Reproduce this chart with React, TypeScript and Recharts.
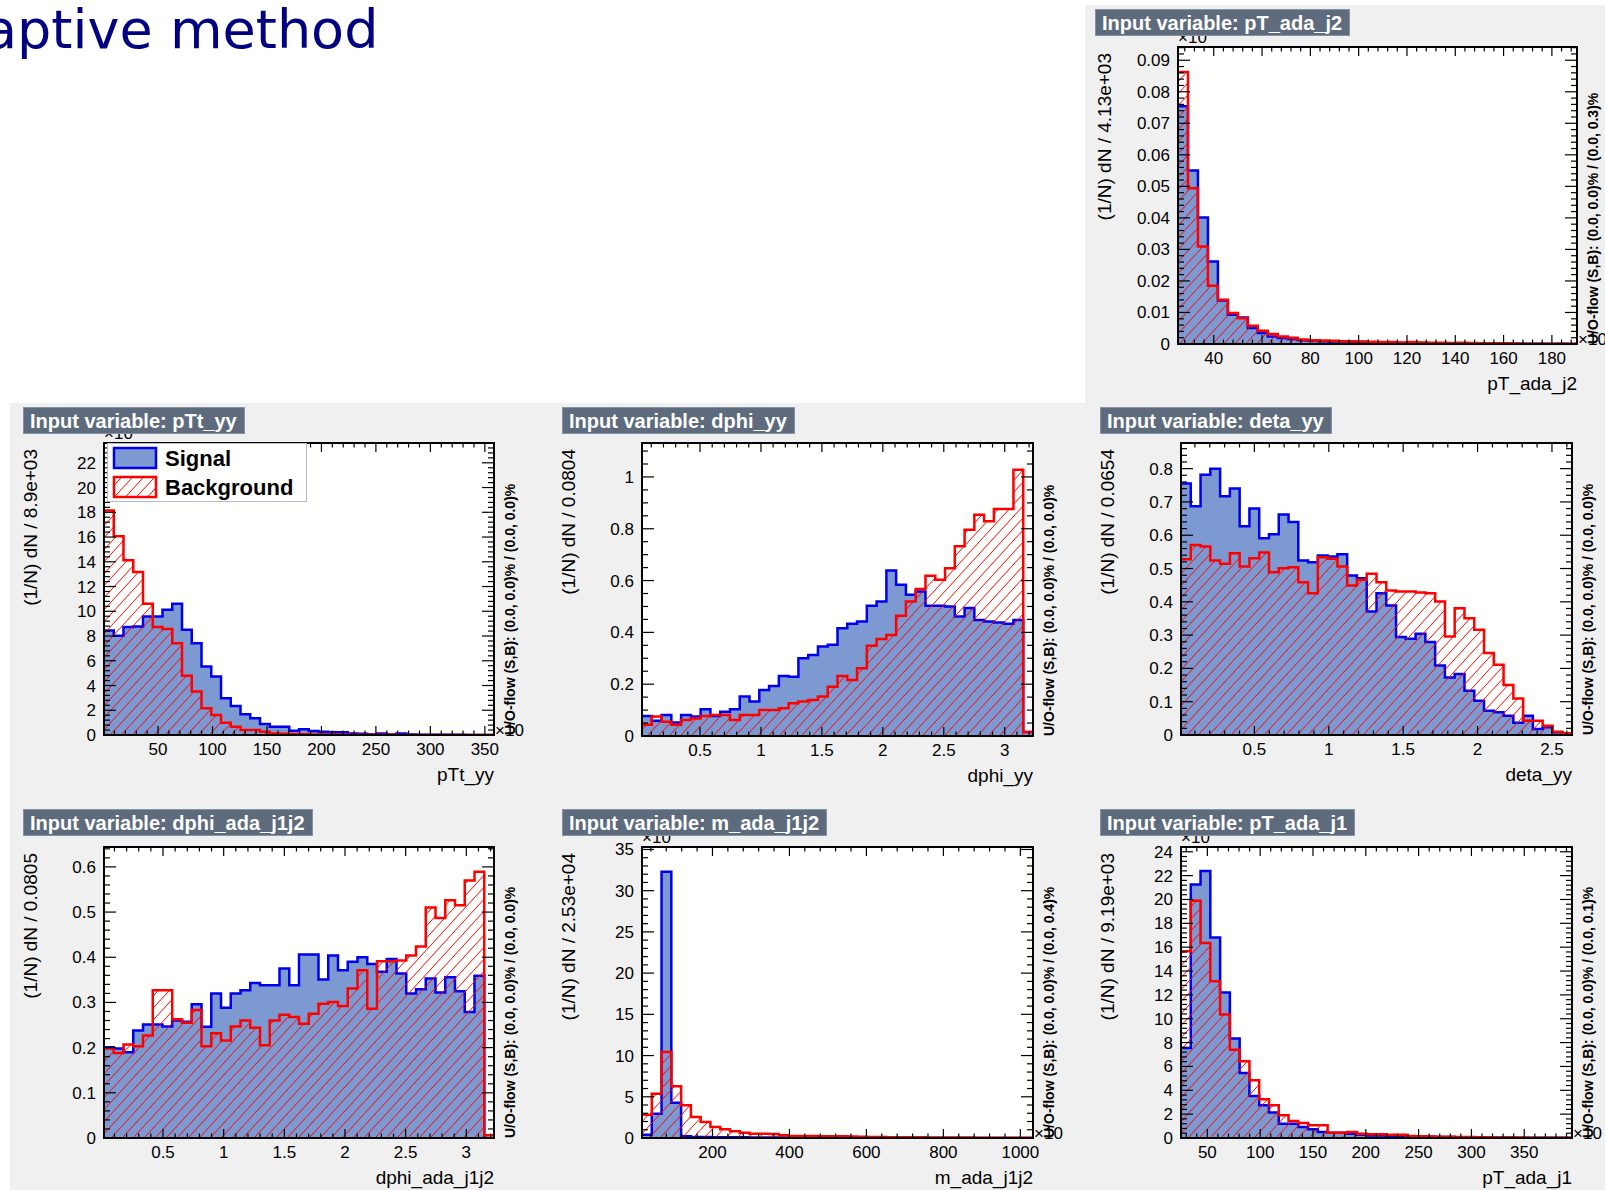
import React from 'react'
import { ComposedChart, Area, XAxis, YAxis } from 'recharts'

const FONT = '"Liberation Sans", Arial, Helvetica, sans-serif'
const SIG_LINE = '#0000ee'
const SIG_FILL = '#7d99d1'
const BKG_LINE = '#ff0000'
const TITLE_BOX = '#5d6b7d'
const CANVAS = '#f0f0f0'

// pT_ada_j2
const ptJ2Sig = [0.0754, 0.055, 0.0401, 0.0262, 0.0138, 0.0093, 0.0084, 0.0051, 0.0035, 0.0024, 0.0019, 0.0016, 0.0012, 0.001, 0.0009, 0.0008, 0.0008, 0.0007, 0.0006, 0.0005, 0.0004, 0.0004, 0.0003, 0.0003, 0.0003, 0.0002, 0.0002, 0.0002, 0.0002, 0.0001, 0.0001, 0.0001, 0.0001, 0.0001, 0.0001, 0.0001, 0.0001, 0.0, 0.0001, 0.0]
const ptJ2Bkg = [0.0863, 0.0494, 0.0309, 0.0185, 0.014, 0.0098, 0.0082, 0.0058, 0.0042, 0.0032, 0.0024, 0.002, 0.0014, 0.0012, 0.0011, 0.001, 0.0009, 0.0009, 0.0008, 0.0007, 0.0006, 0.0006, 0.0005, 0.0006, 0.0005, 0.0004, 0.0004, 0.0003, 0.0004, 0.0003, 0.0002, 0.0002, 0.0002, 0.0002, 0.0001, 0.0001, 0.0001, 0.0001, 0.0001, 0.0001]
const ptJ2XTicks = [40, 60, 80, 100, 120, 140, 160, 180]
const ptJ2YTicks = [0, 0.01, 0.02, 0.03, 0.04, 0.05, 0.06, 0.07, 0.08, 0.09]

// pTt_yy
const pttSig = [8.45, 8.02, 8.72, 8.77, 9.58, 9.58, 10.12, 10.61, 8.5, 7.42, 5.53, 4.72, 2.97, 2.35, 1.67, 1.35, 0.89, 0.67, 0.67, 0.35, 0.46, 0.32, 0.27, 0.22, 0.22, 0.13, 0.1, 0.05, 0.12, 0.05, 0.12, 0.04, 0.03, 0.03, 0.02, 0.02, 0.02, 0.01, 0.01, 0.01]
const pttBkg = [18.14, 16.06, 14.12, 13.17, 10.61, 8.72, 8.56, 7.42, 4.78, 3.51, 2.16, 1.62, 1.0, 0.67, 0.4, 0.4, 0.27, 0.13, 0.1, 0.08, 0.06, 0.05, 0.05, 0.04, 0.03, 0.03, 0.02, 0.02, 0.02, 0.02, 0.01, 0.01, 0.01, 0.01, 0.01, 0.01, 0.01, 0.01, 0.01, 0.01]
const pttXTicks = [50, 100, 150, 200, 250, 300, 350]
const pttYTicks = [0, 2, 4, 6, 8, 10, 12, 14, 16, 18, 20, 22]

// dphi_yy
const dphiYySig = [0.077, 0.059, 0.081, 0.052, 0.081, 0.075, 0.103, 0.077, 0.094, 0.103, 0.152, 0.133, 0.178, 0.193, 0.232, 0.229, 0.3, 0.313, 0.345, 0.352, 0.416, 0.433, 0.442, 0.503, 0.519, 0.639, 0.584, 0.545, 0.558, 0.503, 0.503, 0.5, 0.461, 0.494, 0.448, 0.442, 0.438, 0.433, 0.448, 0.015]
const dphiYyBkg = [0.043, 0.075, 0.055, 0.043, 0.062, 0.068, 0.077, 0.081, 0.081, 0.062, 0.081, 0.081, 0.1, 0.1, 0.107, 0.126, 0.133, 0.139, 0.152, 0.19, 0.232, 0.216, 0.262, 0.348, 0.374, 0.39, 0.464, 0.519, 0.567, 0.619, 0.603, 0.648, 0.732, 0.796, 0.854, 0.829, 0.876, 0.876, 1.028, 0.015]
const dphiYyXTicks = [0.5, 1, 1.5, 2, 2.5, 3]
const dphiYyYTicks = [0, 0.2, 0.4, 0.6, 0.8, 1]

// deta_yy
const detaYySig = [0.755, 0.687, 0.782, 0.8, 0.717, 0.74, 0.627, 0.68, 0.591, 0.603, 0.662, 0.64, 0.524, 0.519, 0.539, 0.536, 0.543, 0.479, 0.471, 0.371, 0.426, 0.389, 0.294, 0.289, 0.304, 0.279, 0.209, 0.173, 0.183, 0.133, 0.103, 0.073, 0.068, 0.058, 0.037, 0.058, 0.018, 0.023, 0.008, 0.005]
const detaYyBkg = [0.528, 0.571, 0.566, 0.524, 0.514, 0.546, 0.506, 0.531, 0.548, 0.489, 0.501, 0.504, 0.459, 0.426, 0.534, 0.529, 0.506, 0.449, 0.466, 0.484, 0.459, 0.434, 0.431, 0.431, 0.428, 0.426, 0.401, 0.296, 0.381, 0.351, 0.316, 0.246, 0.211, 0.15, 0.11, 0.043, 0.043, 0.028, 0.01, 0.005]
const detaYyXTicks = [0.5, 1, 1.5, 2, 2.5]
const detaYyYTicks = [0, 0.1, 0.2, 0.3, 0.4, 0.5, 0.6, 0.7, 0.8]

// dphi_ada_j1j2
const dphiJjSig = [0.201, 0.198, 0.19, 0.238, 0.251, 0.251, 0.247, 0.26, 0.257, 0.296, 0.246, 0.32, 0.288, 0.32, 0.327, 0.343, 0.338, 0.338, 0.375, 0.338, 0.406, 0.406, 0.351, 0.404, 0.371, 0.39, 0.4, 0.385, 0.368, 0.396, 0.364, 0.32, 0.329, 0.353, 0.322, 0.356, 0.325, 0.279, 0.359, 0.0]
const dphiJjBkg = [0.198, 0.188, 0.207, 0.203, 0.227, 0.327, 0.327, 0.263, 0.255, 0.283, 0.203, 0.232, 0.216, 0.247, 0.26, 0.244, 0.205, 0.26, 0.273, 0.268, 0.253, 0.275, 0.297, 0.301, 0.292, 0.331, 0.371, 0.286, 0.391, 0.391, 0.393, 0.404, 0.424, 0.51, 0.487, 0.526, 0.515, 0.57, 0.589, 0.006]
const dphiJjXTicks = [0.5, 1, 1.5, 2, 2.5, 3]
const dphiJjYTicks = [0, 0.1, 0.2, 0.3, 0.4, 0.5, 0.6]

// m_ada_j1j2
const mJjSig = [0.4, 2.95, 32.3, 4.29, 0.2, 0.12, 0.12, 0.1, 0.1, 0.08, 0.08, 0.07, 0.06, 0.06, 0.05, 0.05, 0.04, 0.04, 0.03, 0.03, 0.03, 0.02, 0.02, 0.02, 0.02, 0.01, 0.01, 0.01, 0.01, 0.01, 0.01, 0.01, 0.01, 0.01, 0.01, 0.01, 0.01, 0.01, 0.01, 0.01]
const mJjBkg = [2.83, 5.38, 10.44, 6.27, 3.96, 2.55, 1.94, 1.33, 1.05, 0.81, 0.65, 0.53, 0.53, 0.5, 0.32, 0.24, 0.24, 0.24, 0.22, 0.22, 0.2, 0.18, 0.16, 0.12, 0.12, 0.1, 0.1, 0.08, 0.08, 0.07, 0.06, 0.06, 0.05, 0.05, 0.04, 0.04, 0.04, 0.03, 0.03, 0.03]
const mJjXTicks = [200, 400, 600, 800, 1000]
const mJjYTicks = [0, 5, 10, 15, 20, 25, 30, 35]

// pT_ada_j1
const ptJ1Sig = [7.55, 21.26, 22.38, 16.81, 12.2, 8.34, 5.45, 3.52, 2.74, 2.13, 1.2, 1.2, 0.92, 0.73, 0.5, 0.45, 0.45, 0.36, 0.28, 0.22, 0.2, 0.15, 0.15, 0.12, 0.1, 0.1, 0.08, 0.08, 0.06, 0.06, 0.06, 0.05, 0.04, 0.04, 0.03, 0.03, 0.02, 0.02, 0.02, 0.02]
const ptJ1Bkg = [15.66, 19.89, 16.36, 13.15, 10.35, 7.41, 6.43, 4.84, 3.24, 2.74, 1.9, 1.43, 1.26, 1.06, 1.06, 0.45, 0.45, 0.5, 0.36, 0.31, 0.31, 0.28, 0.28, 0.17, 0.15, 0.12, 0.1, 0.1, 0.08, 0.08, 0.06, 0.06, 0.05, 0.04, 0.04, 0.03, 0.03, 0.02, 0.02, 0.02]
const ptJ1XTicks = [50, 100, 150, 200, 250, 300, 350]
const ptJ1YTicks = [0, 2, 4, 6, 8, 10, 12, 14, 16, 18, 20, 22, 24]

const panels = [
  { id: 'ptj2', name: 'pT_ada_j2', yTitle: '(1/N) dN / 4.13e+03', uo: '(0.0, 0.0)% / (0.0, 0.3)%',
    fx: 1178, fy: 47, fw: 399, fh: 297, tx: 1095, ty: 9, xMin: 25.2, binW: 4.13, yMax: 0.0942,
    xMinor: 4, yMinor: 0.002, exp: true, sig: ptJ2Sig, bkg: ptJ2Bkg, xTicks: ptJ2XTicks, yTicks: ptJ2YTicks },
  { id: 'ptt', name: 'pTt_yy', yTitle: '(1/N) dN / 8.9e+03', uo: '(0.0, 0.0)% / (0.0, 0.0)%',
    fx: 104, fy: 443, fw: 390, fh: 292, tx: 23, ty: 407, xMin: 0.4, binW: 8.95, yMax: 23.6,
    xMinor: 10, yMinor: 0.4, exp: true, sig: pttSig, bkg: pttBkg, xTicks: pttXTicks, yTicks: pttYTicks },
  { id: 'dphiyy', name: 'dphi_yy', yTitle: '(1/N) dN / 0.0804', uo: '(0.0, 0.0)% / (0.0, 0.0)%',
    fx: 642, fy: 443, fw: 391, fh: 293, tx: 562, ty: 407, xMin: 0.024, binW: 0.0802, yMax: 1.131,
    xMinor: 0.1, yMinor: 0.05, exp: false, sig: dphiYySig, bkg: dphiYyBkg, xTicks: dphiYyXTicks, yTicks: dphiYyYTicks },
  { id: 'detayy', name: 'deta_yy', yTitle: '(1/N) dN / 0.0654', uo: '(0.0, 0.0)% / (0.0, 0.0)%',
    fx: 1181, fy: 443, fw: 391, fh: 292, tx: 1100, ty: 407, xMin: 0.0067, binW: 0.0657, yMax: 0.877,
    xMinor: 0.1, yMinor: 0.02, exp: false, sig: detaYySig, bkg: detaYyBkg, xTicks: detaYyXTicks, yTicks: detaYyYTicks },
  { id: 'dphijj', name: 'dphi_ada_j1j2', yTitle: '(1/N) dN / 0.0805', uo: '(0.0, 0.0)% / (0.0, 0.0)%',
    fx: 104, fy: 847, fw: 390, fh: 291, tx: 23, ty: 809, xMin: 0.0137, binW: 0.08036, yMax: 0.644,
    xMinor: 0.1, yMinor: 0.02, exp: false, sig: dphiJjSig, bkg: dphiJjBkg, xTicks: dphiJjXTicks, yTicks: dphiJjYTicks },
  { id: 'mjj', name: 'm_ada_j1j2', yTitle: '(1/N) dN / 2.53e+04', uo: '(0.0, 0.0)% / (0.0, 0.4)%',
    fx: 642, fy: 847, fw: 391, fh: 291, tx: 562, ty: 809, xMin: 16.9, binW: 25.4, yMax: 35.3,
    xMinor: 40, yMinor: 1, exp: true, sig: mJjSig, bkg: mJjBkg, xTicks: mJjXTicks, yTicks: mJjYTicks },
  { id: 'ptj1', name: 'pT_ada_j1', yTitle: '(1/N) dN / 9.19e+03', uo: '(0.0, 0.0)% / (0.0, 0.1)%',
    fx: 1181, fy: 847, fw: 391, fh: 291, tx: 1100, ty: 809, xMin: 25.05, binW: 9.254, yMax: 24.4,
    xMinor: 10, yMinor: 0.4, exp: true, sig: ptJ1Sig, bkg: ptJ1Bkg, xTicks: ptJ1XTicks, yTicks: ptJ1YTicks },
]

type PanelSpec = (typeof panels)[number]

const fmt = (v: number) => String(Number(v.toFixed(6)))

function histRows(xMin: number, binW: number, sig: number[], bkg: number[]) {
  const rows = sig.map((s, i) => ({ x: xMin + i * binW, s, b: bkg[i] }))
  const n = sig.length
  rows.push({ x: xMin + n * binW, s: sig[n - 1], b: bkg[n - 1] })
  return rows
}

function minorTicks(lo: number, hi: number, step: number, majors: number[]) {
  const out: number[] = []
  const start = Math.ceil(lo / step - 1e-9)
  for (let k = start; k * step <= hi + 1e-9; k++) {
    const v = Number((k * step).toFixed(6))
    if (v <= lo || v >= hi) continue
    if (majors.some((m) => Math.abs(m - v) < step * 1e-3)) continue
    out.push(v)
  }
  return out
}

function Hatch({ id }: { id: string }) {
  return (
    <pattern id={id} patternUnits="userSpaceOnUse" width={11} height={12}>
      <rect width={11} height={12} fill="none" />
      <path d="M-1,13 L12,-1" stroke={BKG_LINE} strokeWidth={1} />
    </pattern>
  )
}

const L = 80
const R = 10
const T = 10
const B = 30

function HistPanel({ p }: { p: PanelSpec }) {
  const xMax = p.xMin + p.sig.length * p.binW
  const data = histRows(p.xMin, p.binW, p.sig, p.bkg)
  const xAll = [...p.xTicks, ...minorTicks(p.xMin, xMax, p.xMinor, p.xTicks)].sort((a, b) => a - b)
  const yAll = [...p.yTicks, ...minorTicks(0, p.yMax, p.yMinor, p.yTicks)].sort((a, b) => a - b)
  const top = T
  const bottom = T + p.fh
  const left = L
  const right = L + p.fw
  const isMajor = (list: number[], v: number) => list.some((m) => Math.abs(m - v) < 1e-9)

  const xTick = (props: any) => {
    const { x, payload } = props
    const major = isMajor(p.xTicks, payload.value)
    const len = major ? 9 : 4.5
    return (
      <g>
        <line x1={x} x2={x} y1={bottom} y2={bottom - len} stroke="#000" strokeWidth={1.2} />
        <line x1={x} x2={x} y1={top} y2={top + len} stroke="#000" strokeWidth={1.2} />
        {major && (
          <text x={x} y={bottom + 20} textAnchor="middle" fontSize={17} fontFamily={FONT} fill="#000">
            {fmt(payload.value)}
          </text>
        )}
      </g>
    )
  }

  const yTick = (props: any) => {
    const { y, payload } = props
    const major = isMajor(p.yTicks, payload.value)
    const len = major ? 12 : 6
    return (
      <g>
        <line x1={left} x2={left + len} y1={y} y2={y} stroke="#000" strokeWidth={1.2} />
        <line x1={right} x2={right - len} y1={y} y2={y} stroke="#000" strokeWidth={1.2} />
        {major && (
          <text x={left - 8} y={y} dy={6} textAnchor="end" fontSize={17} fontFamily={FONT} fill="#000">
            {fmt(payload.value)}
          </text>
        )}
      </g>
    )
  }

  return (
    <>
      <div style={{ position: 'absolute', left: p.fx, top: p.fy, width: p.fw, height: p.fh, background: '#fffffd' }} />
      <div style={{ position: 'absolute', left: p.fx - L, top: p.fy - T }}>
        <ComposedChart
          width={p.fw + L + R}
          height={p.fh + T + B}
          data={data}
          margin={{ top: T, right: R, bottom: 0, left: 0 }}
        >
          <defs>
            <Hatch id={`hatch-${p.id}`} />
          </defs>
          <Area
            type="stepAfter"
            dataKey="s"
            stroke={SIG_LINE}
            strokeWidth={2.5}
            fill={SIG_FILL}
            fillOpacity={1}
            dot={false}
            activeDot={false}
            isAnimationActive={false}
          />
          <Area
            type="stepAfter"
            dataKey="b"
            stroke={BKG_LINE}
            strokeWidth={2.5}
            fill={`url(#hatch-${p.id})`}
            fillOpacity={1}
            dot={false}
            activeDot={false}
            isAnimationActive={false}
          />
          <XAxis
            dataKey="x"
            type="number"
            domain={[p.xMin, xMax]}
            allowDataOverflow
            ticks={xAll}
            interval={0}
            tick={xTick}
            tickLine={false}
            axisLine={false}
            height={B}
          />
          <YAxis
            type="number"
            domain={[0, p.yMax]}
            allowDataOverflow
            ticks={yAll}
            interval={0}
            tick={yTick}
            tickLine={false}
            axisLine={false}
            width={L}
          />
        </ComposedChart>
      </div>
      <div
        style={{
          position: 'absolute',
          left: p.fx - 1,
          top: p.fy - 1,
          width: p.fw + 2,
          height: p.fh + 2,
          border: '2px solid #000',
          boxSizing: 'border-box',
          pointerEvents: 'none',
        }}
      />
    </>
  )
}

function PanelTexts({ p }: { p: PanelSpec }) {
  const fr = p.fx + p.fw
  const fb = p.fy + p.fh
  return (
    <g fontFamily={FONT} fill="#000">
      <text x={fr} y={fb + 46} textAnchor="end" fontSize={19}>{p.name}</text>
      <text transform={`translate(${p.fx - 67},${p.fy + 6}) rotate(-90)`} textAnchor="end" fontSize={19}>
        {p.yTitle}
      </text>
      {p.exp && (
        <>
          <text x={p.fx} y={p.fy - 4} fontSize={17}>×10</text>
          <text x={fr + 1} y={fb + 1} fontSize={17}>×10</text>
        </>
      )}
      <text transform={`translate(${fr + 21},${fb}) rotate(-90)`} fontSize={14} fontWeight="bold">
        {`U/O-flow (S,B): ${p.uo}`}
      </text>
    </g>
  )
}

function TitleBox({ p }: { p: PanelSpec }) {
  return (
    <div
      style={{
        position: 'absolute',
        left: p.tx,
        top: p.ty,
        height: 27,
        lineHeight: '26px',
        padding: '0 7px 0 6px',
        background: TITLE_BOX,
        border: '1px solid #8593a5',
        boxSizing: 'border-box',
        color: '#fff',
        fontFamily: FONT,
        fontWeight: 'bold',
        fontSize: 20,
        whiteSpace: 'nowrap',
      }}
    >
      {`Input variable: ${p.name}`}
    </div>
  )
}

function LegendBox() {
  return (
    <div
      style={{
        position: 'absolute',
        left: 107,
        top: 443,
        width: 200,
        height: 59,
        background: '#fffffd',
        border: '1px solid #b4bccb',
        boxSizing: 'border-box',
      }}
    >
      <svg width={198} height={57}>
        <defs>
          <Hatch id="hatch-legend" />
        </defs>
        <rect x={6} y={4} width={42} height={20} fill={SIG_FILL} stroke={SIG_LINE} strokeWidth={2.5} />
        <rect x={6} y={33} width={42} height={20} fill="url(#hatch-legend)" stroke={BKG_LINE} strokeWidth={2.5} />
        <text x={57} y={22} fontFamily={FONT} fontWeight="bold" fontSize={22} fill="#000">Signal</text>
        <text x={57} y={51} fontFamily={FONT} fontWeight="bold" fontSize={22} fill="#000">Background</text>
      </svg>
    </div>
  )
}

export default function App() {
  return (
    <div
      style={{
        position: 'absolute',
        left: 0,
        top: 0,
        width: 1605,
        height: 1190,
        background: '#fff',
        overflow: 'hidden',
      }}
    >
      <div style={{ position: 'absolute', left: 1085, top: 5, width: 520, height: 398, background: CANVAS }} />
      <div style={{ position: 'absolute', left: 10, top: 403, width: 1595, height: 787, background: CANVAS }} />
      {panels.map((p) => (
        <HistPanel key={p.id} p={p} />
      ))}
      <svg style={{ position: 'absolute', left: 0, top: 0 }} width={1605} height={1190} pointerEvents="none">
        <text x={-16} y={48} fontFamily='"DejaVu Sans", Verdana, sans-serif' fontSize={54} fill="#000080">
          aptive method
        </text>
        {panels.map((p) => (
          <PanelTexts key={p.id} p={p} />
        ))}
      </svg>
      {panels.map((p) => (
        <TitleBox key={p.id} p={p} />
      ))}
      <LegendBox />
    </div>
  )
}
